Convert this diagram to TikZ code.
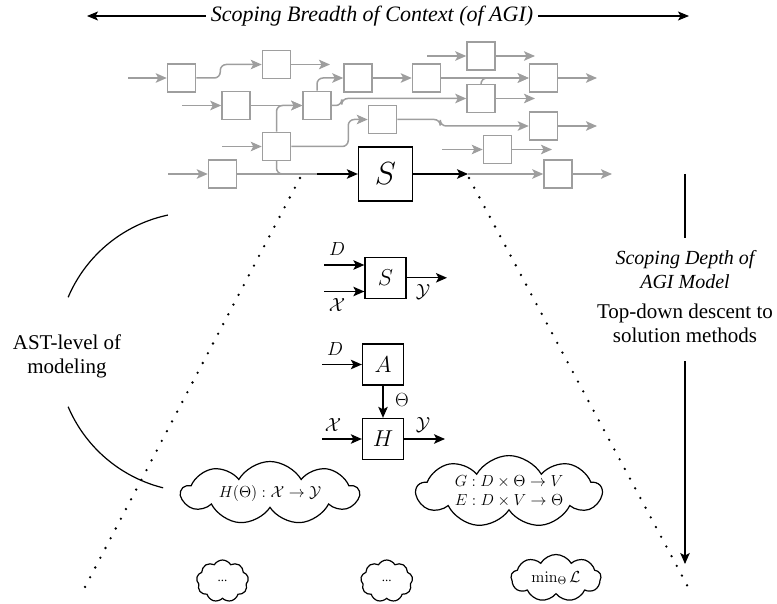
\RequirePackage{fix-cm}
\documentclass[tikz,border=0pt]{standalone}
\usepackage[no-math]{fontspec}
\setmainfont{Liberation Serif}
\usetikzlibrary{arrows.meta,shapes.symbols,calc}
\definecolor{netgray}{RGB}{158,158,158}
\begin{document}
\begin{tikzpicture}[x=1pt,y=-1pt,
  gbox/.style={draw=netgray, line width=1.5pt, fill=white, minimum size=28pt, inner sep=0pt},
  garrow/.style={draw=netgray, line width=1.5pt, -{Stealth[length=11pt,width=9.5pt,inset=2.5pt]}, rounded corners=6pt},
  gline/.style={draw=netgray, line width=1.5pt, rounded corners=6pt},
  barrow/.style={draw=black, line width=1.3pt, -{Stealth[length=11pt,width=9.5pt,inset=2.5pt]}},
  harrow/.style={draw=black, line width=1.1pt, -{Stealth[length=11pt,width=9pt,inset=2.5pt]}},
  bbox/.style={draw, line width=1.3pt, fill=white, minimum size=41pt, inner sep=0pt, font=\fontsize{23}{27}\selectfont},
  lab/.style={inner sep=1pt, font=\fontsize{19}{22}\selectfont},
  cloudnode/.style={cloud, cloud puffs=9, cloud puff arc=120, cloud ignores aspect, draw, line width=1.2pt, inner sep=0pt, fill=white, font=\fontsize{16}{19}\selectfont, align=center},
  dotline/.style={line width=2.6pt, line cap=round, dash pattern=on 0pt off 11pt},
  thinline/.style={line width=1.2pt}
]
\useasboundingbox (0,0) rectangle (777,604);

% ---------- header ----------
\node[font=\fontsize{22}{26}\selectfont\itshape, inner sep=5pt] (hdr) at (372,16) {Scoping Breadth of Context (of AGI)};
\coordinate (hl) at (87,16);
\coordinate (hr) at (689,16);
\draw[harrow] (hdr.west) -- (hl);
\draw[harrow] (hdr.east) -- (hr);

% ---------- dotted cone ----------
\coordinate (dl1) at (300,178);
\coordinate (dl2) at (85,587);
\coordinate (dr1) at (469,178);
\coordinate (dr2) at (688,587);
\draw[dotline] (dl1) -- (dl2);
\draw[dotline] (dr1) -- (dr2);

% ---------- gray network ----------
\node[gbox] (b1) at (181.5,78) {};
\node[gbox] (b2) at (276.5,64.5) {};
\node[gbox] (b3) at (236,105.5) {};
\node[gbox] (b4) at (317,105.5) {};
\node[gbox] (b5) at (358,78) {};
\node[gbox] (b6) at (276.5,146.5) {};
\node[gbox] (b7) at (382.5,119.5) {};
\node[gbox] (b8) at (222.5,174) {};
\node[gbox] (bA) at (481,56) {};
\node[gbox] (bB) at (426.5,78) {};
\node[gbox] (bC) at (543.5,78) {};
\node[gbox] (bD) at (481,98.5) {};
\node[gbox] (bE) at (543.5,126) {};
\node[gbox] (bF) at (497.5,149.5) {};
\node[gbox] (bG) at (558,174) {};
\node[draw, line width=1.3pt, fill=white, minimum size=54pt, inner sep=0pt, font=\fontsize{32}{36}\selectfont] (S) at (385.5,174) {$S$};

\coordinate (in1) at (128,78);
\coordinate (in3) at (182,105.5);
\coordinate (in6) at (222,146.5);
\coordinate (in8) at (168,174);
\coordinate (inA) at (427,56);
\coordinate (inF) at (442,149.5);
\coordinate (out2) at (330,64.5);
\coordinate (outA) at (535,56);
\coordinate (outD) at (535,98.5);
\coordinate (outC) at (597,78);
\coordinate (outE) at (597,126);
\coordinate (outF) at (552,149.5);
\coordinate (outG) at (612,174);
\coordinate (m1) at (317,174);
\coordinate (sOut) at (468,174);

\draw[garrow] (in1) -- (b1.west);
\draw[garrow] (b1.east) -- ++(24,0) |- (b2.west);
\draw[garrow] (b2.east) -- (out2);
\draw[garrow] (in3) -- (b3.west);
\draw[garrow] (b3.east) -- (b4.west);
\draw[garrow] (b4.north) |- (b5.west);
\draw[garrow] (in6) -- (b6.west);
\draw[garrow] (b6.north) |- (b4.west);
\draw[garrow] (b6.east) -- ++(57,0) |- (b7.west);
\draw[garrow] (in8) -- (b8.west);
\draw[gline] (b6.south) |- (m1);
\draw[gline] (b8.east) -- (m1);
\draw[barrow] (m1) -- (S.west);
\draw[garrow] (b4.east) -- ++(10,0) |- (bD.west);
\draw[garrow] (b5.east) -- (bB.west);
\draw[garrow] (bB.east) -- (bC.west);
\draw[garrow] (bD.north) |- (bC.west);
\draw[garrow] (bD.east) -- (outD);
\draw[garrow] (inA) -- (bA.west);
\draw[garrow] (bA.east) -- (outA);
\draw[garrow] (bC.east) -- (outC);
\draw[garrow] (b7.east) -- ++(43,0) |- (bE.west);
\draw[garrow] (bE.east) -- (outE);
\draw[garrow] (inF) -- (bF.west);
\draw[garrow] (bF.east) -- (outF);
\draw[barrow] (S.east) -- (sOut);
\draw[garrow] (sOut) -- (bG.west);
\draw[garrow] (bG.east) -- (outG);

% ---------- middle block diagrams ----------
\node[bbox] (s2) at (385.5,277.8) {$S$};
\coordinate (dIn1) at (324,265);
\coordinate (xIn1) at (324,291.5);
\coordinate (yOut1) at (447,277.8);
\draw[barrow] (dIn1) -- (dIn1 -| s2.west);
\draw[barrow] (xIn1) -- (xIn1 -| s2.west);
\draw[barrow] (s2.east) -- (yOut1);
\node[lab] (dL1) at (337,249) {$D$};
\node[lab] (xL1) at (337,305) {$\mathcal{X}$};
\node[lab] (yL1) at (423,292) {$\mathcal{Y}$};

\node[bbox] (A) at (383,364.5) {$A$};
\node[bbox] (H) at (383,439) {$H$};
\coordinate (dIn2) at (322,364.5);
\coordinate (xIn2) at (322,439);
\coordinate (yOut2) at (445,439);
\draw[barrow] (dIn2) -- (A.west);
\draw[barrow] (A.south) -- (H.north);
\draw[barrow] (xIn2) -- (H.west);
\draw[barrow] (H.east) -- (yOut2);
\node[lab] (dL2) at (335,349) {$D$};
\node[lab] (thL) at (402,400) {$\Theta$};
\node[lab] (xL2) at (333,425) {$\mathcal{X}$};
\node[lab] (yL2) at (423,425) {$\mathcal{Y}$};

% ---------- clouds ----------
\node[cloudnode, minimum width=177pt, minimum height=63pt] (c1) at (270,493) {$H(\Theta):\mathcal{X}\to\mathcal{Y}$};
\node[cloudnode, minimum width=185pt, minimum height=67pt] (c2) at (509,491.5) {$G:D\times\Theta\to V$\\$E:D\times V\to\Theta$};
\node[cloudnode, minimum width=52pt, minimum height=42pt, font=\fontsize{13}{15}\selectfont] (c3) at (222.5,581) {...};
\node[cloudnode, minimum width=52pt, minimum height=42pt, font=\fontsize{13}{15}\selectfont] (c4) at (386.7,581) {...};
\node[cloudnode, minimum width=90pt, minimum height=47pt] (c5) at (556,578) {$\min_\Theta \mathcal{L}$};

% ---------- left arc + label ----------
\draw[thinline] plot[domain=-102:-157, samples=40] ({197+140*cos(\x)}, {352+140*sin(\x)});
\draw[thinline] plot[domain=157:104, samples=40] ({197+140*cos(\x)}, {352+140*sin(\x)});
\node[font=\fontsize{21}{24}\selectfont, align=center] (ast) at (67,356) {AST-level of\\modeling};

% ---------- right depth arrow ----------
\node[font=\fontsize{20}{24}\selectfont\itshape, align=center] (depth) at (685,270) {Scoping Depth of\\AGI Model};
\node[font=\fontsize{21}{24}\selectfont, align=center] (desc) at (685,323) {Top-down descent to\\solution methods};
\coordinate (vtop) at (685,174);
\coordinate (vmid) at (685,238);
\coordinate (vlow) at (685,361);
\coordinate (vbot) at (685,564);
\draw[thinline] (vtop) -- (vmid);
\draw[barrow, line width=1.1pt] (vlow) -- (vbot);
\end{tikzpicture}
\end{document}
